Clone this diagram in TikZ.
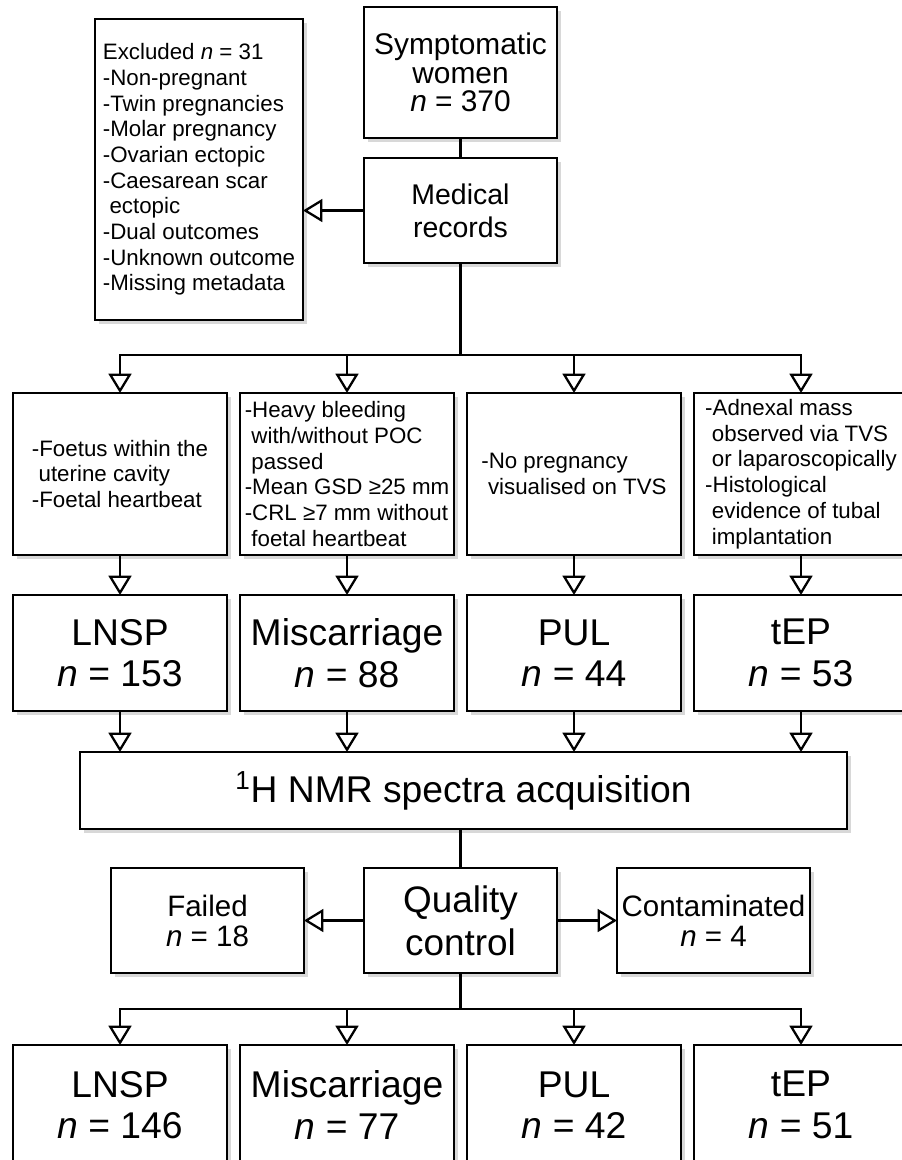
\documentclass[tikz,border=0pt]{standalone}
\usepackage{fontspec}
\setmainfont{Liberation Sans}
\usepackage{tikz}
\usetikzlibrary{positioning}
\usetikzlibrary{arrows.meta}
\usetikzlibrary{shadows}

\newcommand{\critind}{\hspace*{0.3em}}

\begin{document}
\begin{tikzpicture}[
      box style/.style={rectangle,draw=black,line width=1.6pt,fill=white,
        align=center,inner sep=2pt,outer sep=0pt,
        drop shadow={shadow xshift=0.07cm,shadow yshift=-0.07cm,fill=black!30}},
      head style/.style={box style,minimum width=3.86cm,minimum height=2.1cm},
      crit style/.style={box style,align=left,minimum width=4.28cm,
        minimum height=3.24cm,font=\fontsize{12.7}{14.7}\selectfont},
      group style/.style={box style,minimum width=4.28cm,minimum
        height=2.32cm,font=\fontsize{21.2}{23.6}\selectfont},
      link/.style={line width=1.3pt},
      arrow/.style={line width=1.3pt,-{Triangle[open,width=13pt,length=11pt]}}
      ]
      \clip (0,0) rectangle (18.04,-23.2);

      % top of the flow
      \node[head style, minimum height=2.62cm,
        font=\fontsize{17}{16.2}\selectfont] (women) at (9.21,-1.45)
        {Symptomatic\\women\\\textit{n} = 370};
      \node[head style, below=0.4cm of women,
        font=\fontsize{16.2}{18.8}\selectfont] (records)
        {Medical\\records};
      \node[box style, align=left, minimum width=4.16cm, minimum height=6.02cm,
        font=\fontsize{12.7}{14.6}\selectfont] (excl) at (3.98,-3.39)
        {Excluded \textit{n} = 31\\-Non-pregnant\\-Twin pregnancies\\
         -Molar pregnancy\\-Ovarian ectopic\\-Caesarean scar\\
         \critind ectopic\\-Dual outcomes\\-Unknown outcome\\-Missing metadata};

      \draw[link] (records) -- (women);
      \draw[arrow] (records.west) -- (records.west -| excl.east);

      % criteria
      \node[crit style] (lnspcrit) at (2.4,-9.48)
        {-Foetus within the\\\critind uterine cavity\\-Foetal heartbeat};
      \node[crit style, right=0.26cm of lnspcrit] (misccrit)
        {-Heavy bleeding\\\critind with/without POC\\\critind passed\\
         -Mean GSD ≥25 mm\\-CRL ≥7 mm without\\\critind foetal heartbeat};
      \node[crit style, right=0.26cm of misccrit] (pulcrit)
        {-No pregnancy\\\critind visualised on TVS};
      \node[crit style, right=0.26cm of pulcrit] (tepcrit)
        {-Adnexal mass\\\critind observed via TVS\\\critind or laparoscopically\\
         -Histological\\\critind evidence of tubal\\\critind implantation};

      \coordinate (split1) at (records.south |- 0,-7.1);
      \draw[link] (records) -- (split1);
      \draw[arrow] (split1) -| (lnspcrit.north);
      \draw[arrow] (split1) -| (misccrit.north);
      \draw[arrow] (split1) -| (pulcrit.north);
      \draw[arrow] (split1) -| (tepcrit.north);

      % groups
      \node[group style, below=0.8cm of lnspcrit] (lnsp) {LNSP\\\textit{n} = 153};
      \node[group style, below=0.8cm of misccrit] (misc) {Miscarriage\\\textit{n} = 88};
      \node[group style, below=0.8cm of pulcrit] (pul) {PUL\\\textit{n} = 44};
      \node[group style, below=0.8cm of tepcrit] (tep) {tEP\\\textit{n} = 53};

      \draw[arrow] (lnspcrit) edge [] (lnsp);
      \draw[arrow] (misccrit) edge [] (misc);
      \draw[arrow] (pulcrit) edge [] (pul);
      \draw[arrow] (tepcrit) edge [] (tep);

      % spectra and quality control
      \node[box style, minimum width=15.34cm, minimum height=1.54cm,
        font=\fontsize{21.2}{23.6}\selectfont] (nmr) at (9.27,-15.81)
        {\textsuperscript{1}H NMR spectra acquisition};

      \draw[arrow] (lnsp.south) -- (lnsp.south |- nmr.north);
      \draw[arrow] (misc.south) -- (misc.south |- nmr.north);
      \draw[arrow] (pul.south) -- (pul.south |- nmr.north);
      \draw[arrow] (tep.south) -- (tep.south |- nmr.north);

      \node[head style, font=\fontsize{21}{24.4}\selectfont] (qc) at (9.21,-18.41)
        {Quality\\control};
      \node[head style, left=1.2cm of qc, font=\fontsize{16.8}{17}\selectfont] (failed)
        {Failed\\\textit{n} = 18};
      \node[head style, right=1.2cm of qc, inner sep=0pt,
        font=\fontsize{16.8}{17}\selectfont] (contam)
        {Contaminated\\\textit{n} = 4};

      \draw[link] (nmr.south -| qc) -- (qc.north);
      \draw[arrow] (qc) edge [] (failed);
      \draw[arrow] (qc) edge [] (contam);

      % final groups
      \node[group style, minimum height=2.4cm] (lnspfin) at (2.4,-22.1)
        {LNSP\\\textit{n} = 146};
      \node[group style, minimum height=2.4cm, right=0.26cm of lnspfin] (miscfin)
        {Miscarriage\\\textit{n} = 77};
      \node[group style, minimum height=2.4cm, right=0.26cm of miscfin] (pulfin)
        {PUL\\\textit{n} = 42};
      \node[group style, minimum height=2.4cm, right=0.26cm of pulfin] (tepfin)
        {tEP\\\textit{n} = 51};

      \coordinate (split2) at (qc.south |- 0,-20.18);
      \draw[link] (qc) -- (split2);
      \draw[arrow] (split2) -| (lnspfin.north);
      \draw[arrow] (split2) -| (miscfin.north);
      \draw[arrow] (split2) -| (pulfin.north);
      \draw[arrow] (split2) -| (tepfin.north);

    \end{tikzpicture}
\end{document}
